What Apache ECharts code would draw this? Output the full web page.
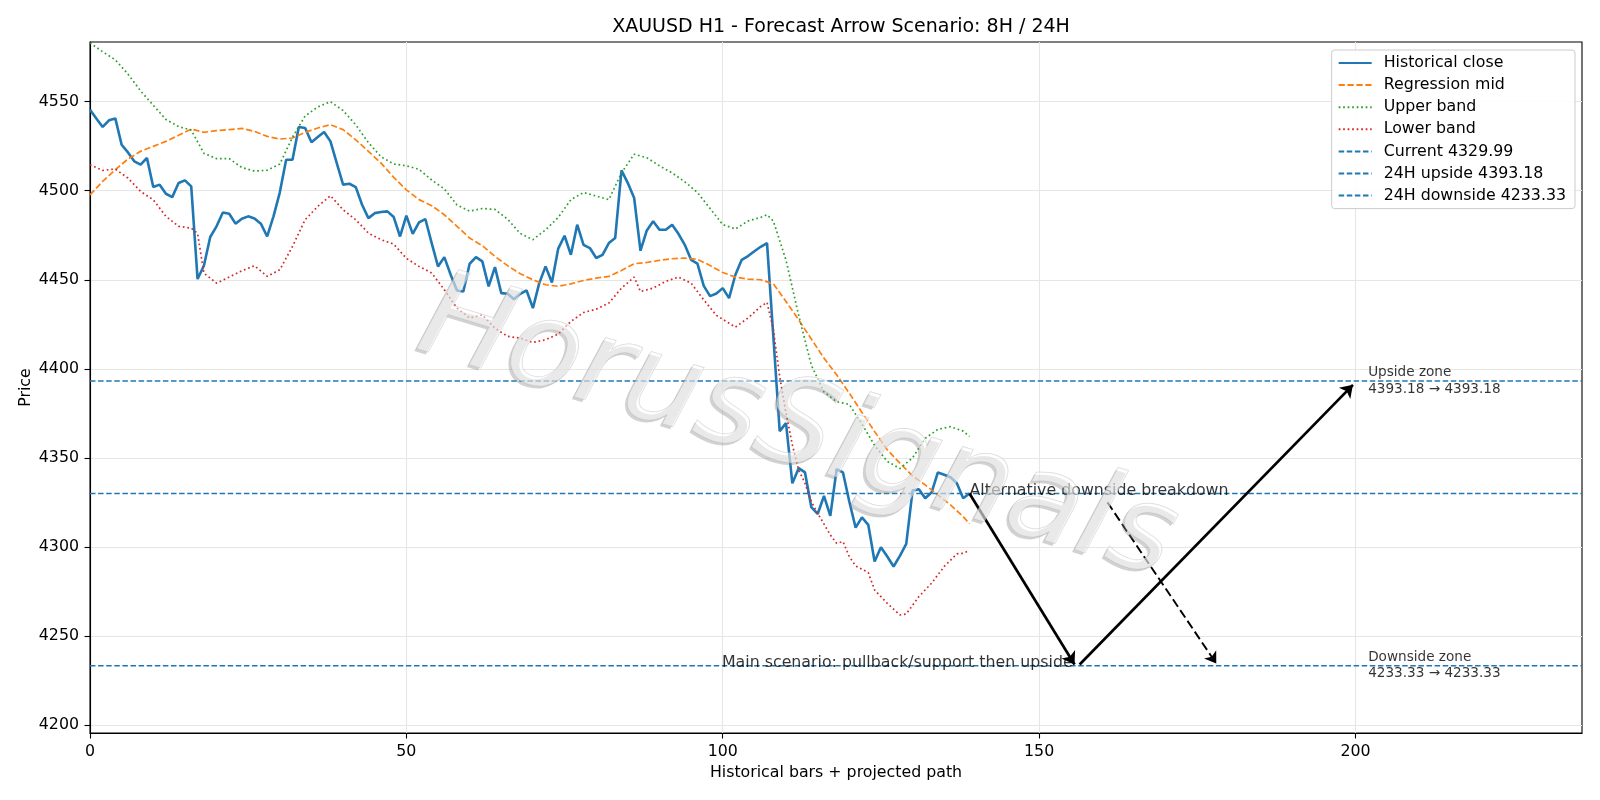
<!DOCTYPE html>
<html>
<head>
<meta charset="utf-8">
<title>XAUUSD H1 forecast arrows</title>
<script src="https://cdn.jsdelivr.net/npm/echarts@6/dist/echarts.min.js"></script>
<style>
  html, body { margin: 0; padding: 0; background: #fff; }
  #chart { width: 1600px; height: 800px; }
</style>
</head>
<body>
<div id="chart"></div>
<script>
// historical close, one value per bar (bar index = position)
const closeValues = [
  4545.5, 4540.5, 4535.8, 4539.5, 4540.6, 4525.8, 4521.5, 4516.5, 4514.6, 4518.4,
  4502.1, 4503.4, 4498.3, 4496.4, 4504.3, 4505.8, 4502.4, 4450.4, 4457.9, 4474.0,
  4480.0, 4487.8, 4487.1, 4481.5, 4484.3, 4485.6, 4484.4, 4481.5, 4474.3, 4485.6,
  4499.1, 4517.4, 4517.4, 4535.8, 4535.2, 4527.2, 4530.1, 4533.0, 4527.7, 4515.5,
  4503.4, 4503.9, 4502.0, 4492.1, 4484.6, 4487.4, 4488.0, 4488.4, 4485.2, 4474.3,
  4486.0, 4475.8, 4482.2, 4484.1, 4470.6, 4457.5, 4462.7, 4452.8, 4444.0, 4443.4,
  4459.0, 4462.7, 4460.3, 4446.3, 4457.1, 4442.5, 4442.1, 4439.1, 4442.1, 4444.0,
  4434.1, 4448.1, 4457.5, 4448.5, 4467.5, 4474.7, 4464.0, 4480.9, 4469.6, 4467.8,
  4462.2, 4464.0, 4470.6, 4473.4, 4511.4, 4504.3, 4495.9, 4466.3, 4477.7, 4482.8,
  4478.1, 4478.1, 4480.9, 4475.8, 4469.6, 4461.2, 4459.0, 4446.6, 4440.8, 4442.3,
  4445.3, 4439.7, 4452.8, 4461.2, 4463.3, 4466.0, 4468.5, 4470.6, 4418.0, 4365.0,
  4369.5, 4335.7, 4344.2, 4341.8, 4322.3, 4318.5, 4328.6, 4317.4, 4343.6, 4341.8,
  4325.5, 4310.8, 4316.6, 4312.4, 4291.8, 4299.8, 4294.6, 4289.0, 4295.0, 4301.7,
  4331.6, 4332.4, 4327.3, 4330.5, 4341.8, 4340.5, 4339.1, 4335.7, 4327.3, 4330.0
];

// smooth lines as [bar, price]
const midPoints = [
  [0, 4497.7], [2, 4505.2], [4, 4511.8], [6, 4517.8], [8, 4522.1], [10, 4524.9], [12, 4527.7],
  [14, 4531.1], [16, 4534.6], [18, 4532.8], [20, 4533.7], [22, 4534.3], [24, 4535.0], [26, 4533.3],
  [28, 4530.5], [30, 4529.0], [32, 4529.6], [34, 4532.8], [36, 4535.2], [38, 4537.1], [40, 4534.3],
  [42, 4528.6], [44, 4522.1], [46, 4515.5], [48, 4507.5], [50, 4500.5], [52, 4495.0], [54, 4491.6],
  [56, 4486.5], [58, 4480.0], [60, 4473.4], [62, 4469.1], [64, 4463.1], [66, 4457.9], [68, 4453.4],
  [70, 4450.0], [72, 4447.2], [74, 4446.3], [76, 4447.7], [78, 4449.6], [80, 4450.9], [82, 4451.9],
  [84, 4455.2], [86, 4459.0], [88, 4459.7], [90, 4460.9], [92, 4461.8], [94, 4462.2], [96, 4461.5],
  [98, 4458.0], [100, 4454.1], [102, 4451.5], [104, 4450.4], [106, 4450.0], [108, 4447.7], [110, 4437.8],
  [112, 4427.5], [114, 4416.7], [116, 4406.0], [118, 4396.6], [120, 4386.3], [122, 4375.5], [124, 4364.8],
  [126, 4354.5], [128, 4347.0], [130, 4339.9], [132, 4334.8], [134, 4329.2], [136, 4323.6], [138, 4317.0],
  [139, 4313.0]
];

const upperPoints = [
  [0, 4583.0], [2, 4578.0], [4, 4573.5], [6, 4565.5], [8, 4556.0], [10, 4548.0], [12, 4540.0],
  [14, 4536.0], [16, 4534.0], [18, 4521.0], [20, 4518.0], [22, 4518.0], [24, 4513.0], [26, 4511.0],
  [28, 4511.5], [30, 4515.0], [32, 4530.0], [34, 4542.0], [36, 4547.0], [38, 4550.0], [40, 4545.0],
  [42, 4537.0], [44, 4527.0], [46, 4519.0], [48, 4515.0], [50, 4514.0], [52, 4512.0], [54, 4506.0],
  [56, 4501.0], [58, 4492.0], [60, 4488.5], [62, 4490.0], [64, 4489.5], [66, 4484.0], [68, 4476.0],
  [70, 4472.5], [72, 4478.0], [74, 4485.0], [76, 4495.0], [78, 4499.0], [80, 4497.0], [82, 4495.0],
  [84, 4510.0], [86, 4520.5], [88, 4518.5], [90, 4514.0], [92, 4510.0], [94, 4505.0], [96, 4499.0],
  [98, 4490.0], [100, 4481.0], [102, 4478.5], [104, 4483.0], [106, 4485.0], [107, 4486.5], [108, 4483.0],
  [110, 4461.0], [112, 4430.0], [114, 4402.0], [116, 4387.0], [118, 4381.5], [120, 4380.0], [122, 4369.0],
  [124, 4357.0], [126, 4348.0], [128, 4344.0], [130, 4350.0], [132, 4361.0], [134, 4366.0], [136, 4367.5],
  [138, 4365.0], [139, 4362.0]
];

const lowerPoints = [
  [0, 4514.6], [2, 4511.4], [4, 4512.2], [6, 4507.1], [8, 4499.6], [10, 4494.9], [12, 4485.6],
  [14, 4480.0], [16, 4479.0], [17, 4476.0], [18, 4453.7], [20, 4448.1], [22, 4451.5], [24, 4455.0],
  [26, 4457.9], [28, 4451.9], [30, 4455.6], [32, 4468.7], [34, 4483.7], [36, 4491.2], [38, 4497.2],
  [40, 4489.3], [42, 4483.7], [44, 4476.2], [46, 4472.5], [48, 4470.0], [50, 4462.0], [52, 4457.5],
  [54, 4453.8], [56, 4444.4], [58, 4434.1], [60, 4428.5], [62, 4430.3], [64, 4422.8], [66, 4418.2],
  [68, 4417.2], [70, 4414.8], [72, 4416.3], [74, 4419.5], [76, 4426.6], [78, 4431.6], [80, 4433.5],
  [82, 4436.9], [84, 4445.3], [86, 4451.5], [87, 4443.4], [89, 4445.3], [91, 4449.1], [93, 4451.5],
  [95, 4448.1], [97, 4438.7], [99, 4430.0], [101, 4425.6], [102, 4423.4], [104, 4428.5], [106, 4435.0],
  [107, 4437.3], [108, 4421.9], [109, 4395.7], [110, 4375.1], [111, 4357.3], [112, 4343.2], [113, 4335.7],
  [114, 4325.5], [115, 4318.9], [117, 4306.7], [118, 4302.0], [119, 4303.0], [120, 4294.6], [121, 4289.3],
  [123, 4285.6], [124, 4275.8], [126, 4268.3], [128, 4261.8], [129, 4262.3], [131, 4272.1], [133, 4279.6],
  [135, 4289.0], [137, 4296.1], [138, 4296.4], [139, 4298.0]
];

const currentPrice = 4329.99;
const upsideTarget = 4393.18;
const downsideTarget = 4233.33;

// projected path arrows [bar, price]
const mainLegDown = [[139, 4329.99], [155.6, 4234.0]];
const mainLegUp = [[156.4, 4234.0], [199.6, 4391.0]];
const altLeg = [[160.8, 4325.0], [178, 4234.5]];

const xTicks = [0, 50, 100, 150, 200];
const yTicks = [4200, 4250, 4300, 4350, 4400, 4450, 4500, 4550];
const xRange = [0, 235.8];
const yRange = [4195.5, 4583.5];

const FONT = '"DejaVu Sans", "Liberation Sans", sans-serif';
const FS = 15.8;
const BLUE = '#1f77b4';

const chart = echarts.init(document.getElementById('chart'));

// 水平参考线
const hline = (name, price) => ({
  name,
  type: 'line',
  data: [[xRange[0], price], [xRange[1], price]],
  symbol: 'none',
  silent: true,
  lineStyle: { color: BLUE, width: 1.5, type: [5.5, 2.6] },
  itemStyle: { color: BLUE },
  z: 3,
});

const arrow = (coords, dashed) => ({
  type: 'lines',
  coordinateSystem: 'cartesian2d',
  silent: true,
  symbol: ['none', 'arrow'],
  symbolSize: dashed ? [9, 11] : [10, 12],
  lineStyle: { color: '#000', width: dashed ? 1.9 : 2.7, type: dashed ? [9, 4] : 'solid', opacity: 1 },
  data: [{ coords }],
  z: 6,
});

const note = (x, y, text, align, vAlign, dy, size, lh) => ({
  type: 'scatter',
  silent: true,
  symbolSize: 0,
  data: [[x, y]],
  label: {
    show: true,
    position: [0, dy],
    align,
    verticalAlign: vAlign,
    formatter: text,
    color: '#000',
    fontSize: size,
    lineHeight: lh,
    fontFamily: FONT,
  },
  z: 7,
});

// 水印：灰色阴影 + 半透明白字
const watermark = (x, y, fill, stroke) => ({
  type: 'text',
  x,
  y,
  rotation: -17 * Math.PI / 180,
  silent: true,
  z: 100,
  style: {
    text: 'HorusSignals',
    font: 'italic 120px "DejaVu Sans"',
    fill,
    stroke,
    lineWidth: stroke ? 1 : 0,
    align: 'center',
    verticalAlign: 'middle',
  },
});

chart.setOption({
  animation: false,
  backgroundColor: '#fff',
  textStyle: { fontFamily: FONT },
  title: {
    text: 'XAUUSD H1 - Forecast Arrow Scenario: 8H / 24H',
    left: 836,
    top: 13,
    textAlign: 'center',
    textStyle: { fontSize: 19, fontWeight: 'normal', color: '#000', fontFamily: FONT },
  },
  grid: {
    left: 90,
    right: 18,
    top: 42,
    bottom: 67,
    show: true,
    borderColor: '#000',
    borderWidth: 1.1,
  },
  legend: {
    orient: 'vertical',
    right: 25,
    top: 50,
    itemWidth: 33,
    itemHeight: 16,
    itemGap: 6.1,
    padding: [5, 9, 5, 6],
    backgroundColor: 'rgba(255,255,255,0.85)',
    borderColor: '#cccccc',
    borderWidth: 1,
    borderRadius: 3,
    selectedMode: false,
    itemStyle: { opacity: 0 },
    textStyle: { fontSize: FS, lineHeight: 16, color: '#000', fontFamily: FONT, padding: [0, 0, 0, 7] },
    data: [
      'Historical close', 'Regression mid', 'Upper band', 'Lower band',
      'Current 4329.99', '24H upside 4393.18', '24H downside 4233.33',
    ],
  },
  xAxis: {
    type: 'value',
    min: xRange[0],
    max: xRange[1],
    name: 'Historical bars + projected path',
    nameLocation: 'middle',
    nameGap: 32,
    nameMoveOverlap: false,
    nameTextStyle: { fontSize: FS, color: '#000', fontFamily: FONT },
    axisLine: { show: true, lineStyle: { color: '#000', width: 1.1 } },
    axisTick: { show: true, length: 5.5, customValues: xTicks, lineStyle: { color: '#000', width: 1.1 } },
    axisLabel: { customValues: xTicks, margin: 11, fontSize: FS, color: '#000', fontFamily: FONT },
    splitLine: { show: true, lineStyle: { color: '#e6e6e6', width: 1.1 } },
  },
  yAxis: {
    type: 'value',
    min: yRange[0],
    max: yRange[1],
    name: 'Price',
    nameLocation: 'middle',
    nameGap: 56,
    nameMoveOverlap: false,
    nameTextStyle: { fontSize: FS, color: '#000', fontFamily: FONT },
    axisLine: { show: true, lineStyle: { color: '#000', width: 1.1 } },
    axisTick: { show: true, length: 5.5, customValues: yTicks, lineStyle: { color: '#000', width: 1.1 } },
    axisLabel: {
      customValues: yTicks,
      margin: 11,
      fontSize: FS,
      color: '#000',
      fontFamily: FONT,
      formatter: (v) => String(v),
    },
    splitLine: { show: true, lineStyle: { color: '#e6e6e6', width: 1.1 } },
  },
  graphic: [
    watermark(794.5, 434.5, 'rgba(130,130,130,0.36)', null),
    watermark(797, 432, 'rgba(255,255,255,0.5)', 'rgba(175,175,175,0.5)'),
  ],
  series: [
    {
      name: 'Historical close',
      type: 'line',
      data: closeValues.map((v, i) => [i, v]),
      symbol: 'none',
      silent: true,
      lineStyle: { color: BLUE, width: 2.6 },
      itemStyle: { color: BLUE },
      z: 2,
    },
    {
      name: 'Regression mid',
      type: 'line',
      data: midPoints,
      symbol: 'none',
      silent: true,
      lineStyle: { color: '#ff7f0e', width: 1.7, type: [6.2, 2.7] },
      itemStyle: { color: '#ff7f0e' },
      z: 2,
    },
    {
      name: 'Upper band',
      type: 'line',
      data: upperPoints,
      symbol: 'none',
      silent: true,
      lineStyle: { color: '#2ca02c', width: 1.7, type: [1.7, 2.8] },
      itemStyle: { color: '#2ca02c' },
      z: 2,
    },
    {
      name: 'Lower band',
      type: 'line',
      data: lowerPoints,
      symbol: 'none',
      silent: true,
      lineStyle: { color: '#d62728', width: 1.7, type: [1.7, 2.8] },
      itemStyle: { color: '#d62728' },
      z: 2,
    },
    hline('Current 4329.99', currentPrice),
    hline('24H upside 4393.18', upsideTarget),
    hline('24H downside 4233.33', downsideTarget),
    arrow(mainLegDown, false),
    arrow(mainLegUp, false),
    arrow(altLeg, true),
    note(139, currentPrice, 'Alternative downside breakdown', 'left', 'bottom', 6, FS, 18),
    note(155.3, downsideTarget, 'Main scenario: pullback/support then upside', 'right', 'bottom', 6, FS, 18),
    note(202, upsideTarget, 'Upside zone\n4393.18 → 4393.18', 'left', 'middle', 0, 13.6, 16.3),
    note(202, downsideTarget, 'Downside zone\n4233.33 → 4233.33', 'left', 'middle', 0, 13.6, 16.3),
  ],
});
</script>
</body>
</html>
